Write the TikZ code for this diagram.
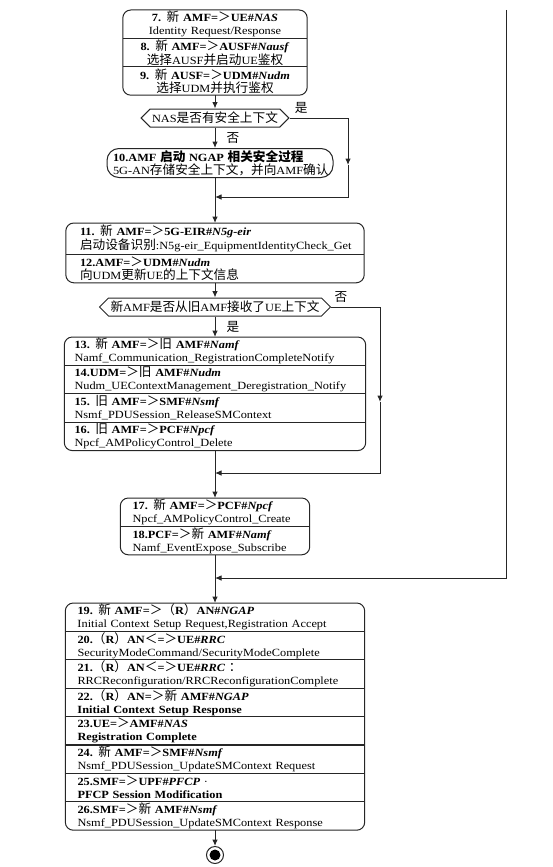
\documentclass[tikz,border=0pt]{standalone}
\usepackage{fontspec}
\setmainfont{Liberation Serif}[FakeStretch=1.12]
\newfontfamily\cjk{Noto Sans CJK SC}[Scale=1.15]
\usetikzlibrary{positioning,shapes.symbols,arrows.meta}

\newcommand{\zh}[1]{{\cjk\mdseries #1}}
\newcommand{\zhb}[1]{{\cjk #1}}
\newcommand{\boxfont}{\fontsize{11}{13}\selectfont}
\hyphenpenalty=10000
\exhyphenpenalty=10000

\tikzset{
  conn/.style={draw=black!85, line width=1pt},
  flow/.style={conn, -{Latex[length=6.5pt,width=5.5pt]}},
  cell/.style={font=\boxfont, minimum height=28pt, inner ysep=0.5pt, inner xsep=10pt, align=left, anchor=north},
  grpA/.style={cell, text width=172pt, inner xsep=6pt, align=center},
  grpB/.style={cell, text width=270pt, inner xsep=14pt},
  grpC/.style={cell, text width=281pt},
  grpD/.style={cell, text width=165pt, inner xsep=12pt},
  grpE/.style={cell, text width=275pt, inner xsep=12pt},
  grpframe/.style={conn, rounded corners=8pt},
  sepline/.style={draw=black!85, line width=1.2pt},
  decision/.style={draw=black!85, line width=1pt, signal, signal to=west and east, font=\boxfont, minimum height=18pt, inner xsep=2pt, inner ysep=1pt},
  proc/.style={draw=black!85, line width=1pt, rounded corners=12pt, font=\boxfont, text width=214pt, inner xsep=6pt, inner ysep=1pt, minimum height=29pt, align=left, anchor=north},
  lbl/.style={font=\boxfont, inner sep=1pt}
}

\begin{document}
\begin{tikzpicture}[x=1pt, y=-1pt]
\useasboundingbox (0,0) rectangle (552,867);

% 7--9
\node[grpA] (c7) at (215,10) {\textbf{7. \zh{新} AMF=\zh{＞}UE\#\textit{NAS}}\\Identity Request/Response};
\node[grpA, below=0pt of c7] (c8) {\textbf{8. \zh{新} AMF=\zh{＞}AUSF\#\textit{Nausf}}\\\zh{选择}AUSF\zh{并启动}UE\zh{鉴权}};
\node[grpA, below=0pt of c8] (c9) {\textbf{9. \zh{新} AUSF=\zh{＞}UDM\#\textit{Nudm}}\\\zh{选择}UDM\zh{并执行鉴权}};
\draw[grpframe] (c7.north west) rectangle (c9.south east);
\draw[sepline] (c7.south west) -- (c7.south east);
\draw[sepline] (c8.south west) -- (c8.south east);

\node[decision, minimum width=142pt] (d1) at (215,118) {NAS\zh{是否有安全上下文}};
\node[proc] (c10) at (220,148) {\textbf{10.AMF \zhb{启动} NGAP \zhb{相关安全过程}}\\5G-AN\zh{存储安全上下文，并向}AMF\zh{确认}};

% 11--12
\node[grpB, minimum height=31pt] (c11) at (215,223) {\textbf{11. \zh{新} AMF=\zh{＞}5G-EIR\#\textit{N5g-eir}}\\\zh{启动设备识别}:N5g-eir\_EquipmentIdentityCheck\_Get};
\node[grpB, below=0pt of c11] (c12) {\textbf{12.AMF=\zh{＞}UDM\#\textit{Nudm}}\\\zh{向}UDM\zh{更新}UE\zh{的上下文信息}};
\draw[grpframe] (c11.north west) rectangle (c12.south east);
\draw[sepline] (c11.south west) -- (c11.south east);

\node[decision, minimum width=225pt] (d2) at (215,307) {\zh{新}AMF\zh{是否从旧}AMF\zh{接收了}UE\zh{上下文}};

% 13--16
\node[grpC] (c13) at (215,337) {\textbf{13. \zh{新} AMF=\zh{＞旧} AMF\#\textit{Namf}}\\Namf\_Communication\_RegistrationCompleteNotify};
\node[grpC, below=0pt of c13] (c14) {\textbf{14.UDM=\zh{＞旧} AMF\#\textit{Nudm}}\\Nudm\_UEContextManagement\_Deregistration\_Notify};
\node[grpC, below=0pt of c14] (c15) {\textbf{15. \zh{旧} AMF=\zh{＞}SMF\#\textit{Nsmf}}\\Nsmf\_PDUSession\_ReleaseSMContext};
\node[grpC, below=0pt of c15] (c16) {\textbf{16. \zh{旧} AMF=\zh{＞}PCF\#\textit{Npcf}}\\Npcf\_AMPolicyControl\_Delete};
\draw[grpframe] (c13.north west) rectangle (c16.south east);
\foreach \c in {c13,c14,c15}
  \draw[sepline] (\c.south west) -- (\c.south east);

% 17--18
\node[grpD] (c17) at (215,498) {\textbf{17. \zh{新} AMF=\zh{＞}PCF\#\textit{Npcf}}\\Npcf\_AMPolicyControl\_Create};
\node[grpD, below=0pt of c17] (c18) {\textbf{18.PCF=\zh{＞新} AMF\#\textit{Namf}}\\Namf\_EventExpose\_Subscribe};
\draw[grpframe] (c17.north west) rectangle (c18.south east);
\draw[sepline] (c17.south west) -- (c17.south east);

% 19--26
\node[grpE] (c19) at (215,603) {\textbf{19. \zh{新} AMF=\zh{＞（}R\zh{）}AN\#\textit{NGAP}}\\Initial Context Setup Request,Registration Accept};
\node[grpE, below=0pt of c19] (c20) {\textbf{20.\zh{（}R\zh{）}AN\zh{＜}=\zh{＞}UE\#\textit{RRC}}\\SecurityModeCommand/SecurityModeComplete};
\node[grpE, below=0pt of c20] (c21) {\textbf{21.\zh{（}R\zh{）}AN\zh{＜}=\zh{＞}UE\#\textit{RRC}} \zh{：}\\RRCReconfiguration/RRCReconfigurationComplete};
\node[grpE, below=0pt of c21] (c22) {\textbf{22.\zh{（}R\zh{）}AN=\zh{＞新} AMF\#\textit{NGAP}}\\\textbf{Initial Context Setup Response}};
\node[grpE, below=0pt of c22] (c23) {\textbf{23.UE=\zh{＞}AMF\#\textit{NAS}}\\\textbf{Registration Complete}};
\node[grpE, below=0pt of c23] (c24) {\textbf{24. \zh{新} AMF=\zh{＞}SMF\#\textit{Nsmf}}\\Nsmf\_PDUSession\_UpdateSMContext Request};
\node[grpE, below=0pt of c24] (c25) {\textbf{25.SMF=\zh{＞}UPF\#\textit{PFCP}} ·\\\textbf{PFCP Session Modification}};
\node[grpE, below=0pt of c25] (c26) {\textbf{26.SMF=\zh{＞新} AMF\#\textit{Nsmf}}\\Nsmf\_PDUSession\_UpdateSMContext Response};
\draw[grpframe] (c19.north west) rectangle (c26.south east);
\foreach \c in {c19,c20,c21,c22,c23,c24,c25}
  \draw[sepline] (\c.south west) -- (\c.south east);

\node[circle, draw=black!85, line width=1pt, minimum size=17pt, inner sep=0pt] (stop) at (215,855) {};
\fill[black] (stop.center) circle (5.5pt);

\coordinate (a1) at (348,165);
\coordinate (j1) at (215,197);
\coordinate (a2) at (380,402);
\coordinate (j2) at (215,473);
\coordinate (back) at (506,10);
\coordinate (j3) at (215,578);

% connectors
\draw[flow] (c9.south) -- (d1.north);
\draw[flow] (d1.south) -- node[lbl, right=10pt] {\zh{否}} (d1.south |- c10.north);
\draw[flow] (d1.east) -| node[lbl, pos=0.1, above=3pt] {\zh{是}} (a1);
\draw[flow] (a1) |- (j1);
\draw[conn] (d1.south |- c10.south) -- (j1);
\draw[flow] (j1) -- (c11.north);
\draw[flow] (c12.south) -- (d2.north);
\draw[flow] (d2.east) -| node[lbl, pos=0.1, above=3pt] {\zh{否}} (a2);
\draw[flow] (a2) |- (j2);
\draw[flow] (d2.south) -- node[lbl, right=10pt] {\zh{是}} (c13.north);
\draw[conn] (c16.south) -- (j2);
\draw[flow] (j2) -- (c17.north);
\draw[conn] (c18.south) -- (j3);
\draw[flow] (back) |- (j3);
\draw[flow] (j3) -- (c19.north);
\draw[flow] (c26.south) -- (stop.north);
\end{tikzpicture}
\end{document}
